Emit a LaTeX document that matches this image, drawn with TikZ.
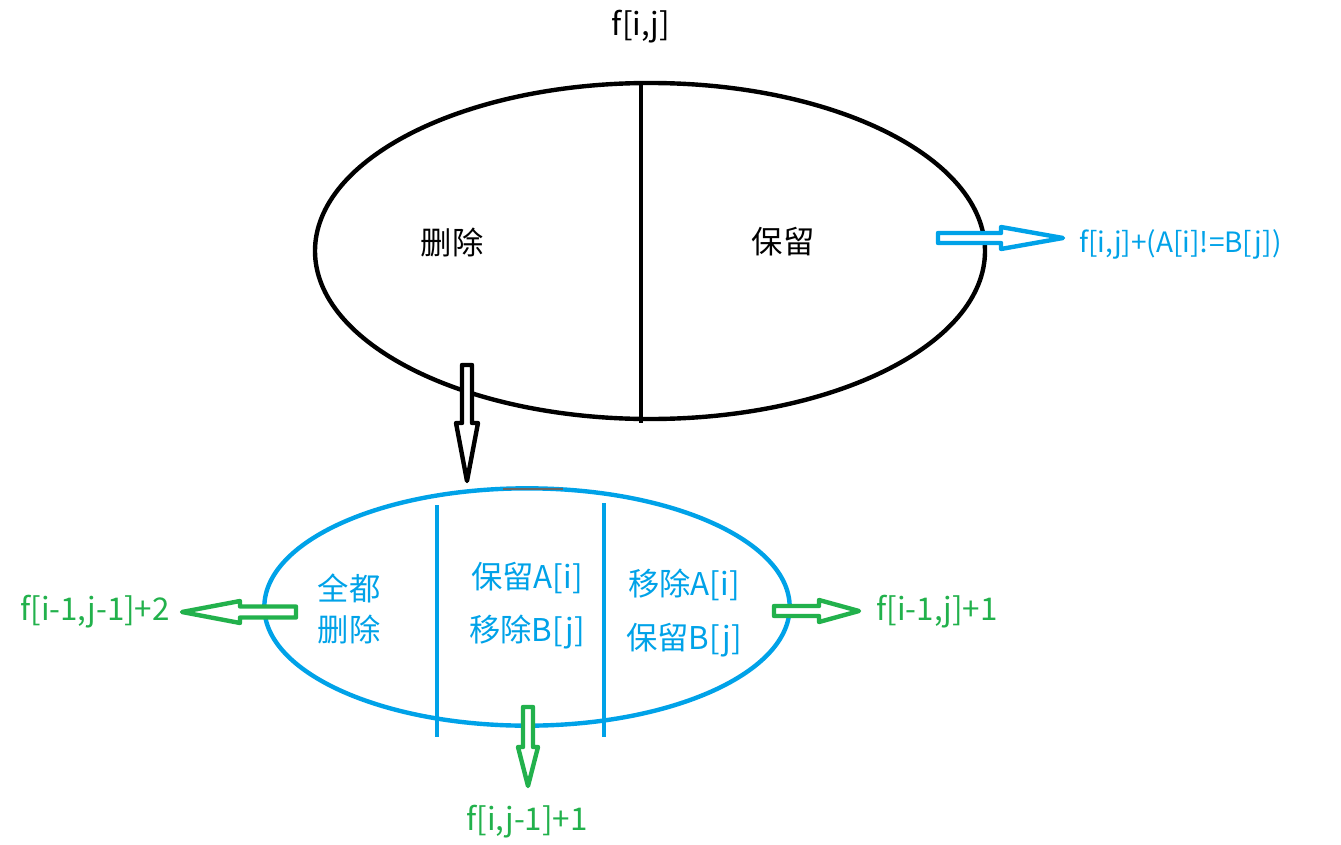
\documentclass[tikz,border=0pt]{standalone}
\usepackage{fontspec}
\setmainfont{Noto Sans CJK SC}
\usetikzlibrary{shapes.geometric}
\definecolor{pblue}{HTML}{00A2E8}
\definecolor{pgreen}{HTML}{22B14C}
\tikzset{
  oval/.style={draw, ellipse, inner sep=0pt, line width=3.3pt},
  divider/.style={line width=3.3pt},
  lbl/.style={inner sep=0pt, font=\fontsize{23.5}{28}\selectfont},
  blockarrow/.style={line width=3.3pt, line join=round, fill=white},
}
\begin{document}
\begin{tikzpicture}[x=0.75pt,y=-0.75pt]
\useasboundingbox (0,0) rectangle (1341,845);
% top ellipse
\node[oval, minimum width=502.5pt, minimum height=252pt] (top) at (650,251) {};
\coordinate (t1) at (641,83);
\coordinate (t2) at (641,423);
\draw[divider] (t1) -- (t2);
\node[lbl] (title) at (641,27) {f[i,j]};
\node[lbl] (del) at (452,242) {删除};
\node[lbl] (keep) at (783,242) {保留};
% bottom ellipse
\node[oval, draw=pblue, minimum width=394pt, minimum height=178pt] (bot) at (527,607) {};
\draw[divider, pblue] (437,505) -- (437,737);
\draw[divider, pblue] (604,503) -- (604,737);
\draw[gray!80!black, line width=1.5pt] (503,489) -- (563,489);
\node[lbl, pblue, align=center] (all) at (349,609) {全都\\[3pt]删除};
\node[lbl, pblue] (k1) at (527,578) {保留A[i]};
\node[lbl, pblue] (r1) at (527,632) {移除B[j]};
\node[lbl, pblue] (r2) at (684,585) {移除A[i]};
\node[lbl, pblue] (k2) at (684,640) {保留B[j]};
% labels
\node[lbl, pblue, anchor=west, font=\fontsize{21}{25}\selectfont] (res) at (1079,244) {f[i,j]+(A[i]!=B[j])};
\node[lbl, pgreen] (lres) at (95,612) {f[i-1,j-1]+2};
\node[lbl, pgreen] (rres) at (937,612) {f[i-1,j]+1};
\node[lbl, pgreen] (dres) at (527,822) {f[i,j-1]+1};
% block arrows
\draw[blockarrow] (462,365) -- (472,365) -- (472,423) -- (478,423) -- (467,481) -- (456,423) -- (462,423) -- cycle;
\draw[blockarrow, draw=pblue] (938,233) -- (1001,233) -- (1001,227) -- (1063,238) -- (1001,249) -- (1001,243) -- (938,243) -- cycle;
\draw[blockarrow, draw=pgreen] (296,606.5) -- (240,606.5) -- (240,601) -- (182,612) -- (240,623) -- (240,617.5) -- (296,617.5) -- cycle;
\draw[blockarrow, draw=pgreen] (774,606) -- (819,606) -- (819,600) -- (859,611) -- (819,622) -- (819,616) -- (774,616) -- cycle;
\draw[blockarrow, draw=pgreen] (523,707) -- (533,707) -- (533,747) -- (538,747) -- (528,786) -- (518,747) -- (523,747) -- cycle;
\end{tikzpicture}
\end{document}
